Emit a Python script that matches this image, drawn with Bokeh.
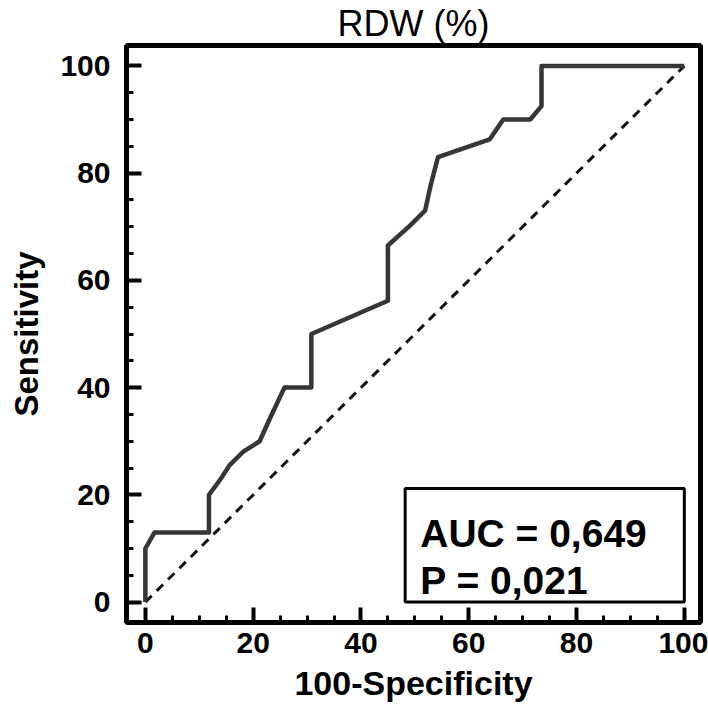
from bokeh.plotting import figure
from bokeh.models import Range1d, ColumnDataSource, FixedTicker
from bokeh.embed import file_html
from bokeh.resources import INLINE
from bokeh.core.properties import value

# ROC curve (100-Specificity vs Sensitivity)
fpr = [0, 0, 1.7, 11.8, 11.8, 14.0, 15.6, 18.1, 21.2, 23.0, 25.8, 30.8, 30.8,
       45.0, 45.0, 49.1, 51.9, 53.0, 54.3, 59.0, 63.9, 66.4, 71.4, 73.5, 73.5, 100]
tpr = [0, 10, 13, 13, 20, 23.0, 25.5, 28, 30, 34.0, 40, 40, 50,
       56.2, 66.5, 70.2, 73, 78, 83, 84.6, 86.3, 90, 90, 92.5, 100, 100]
ref_x = [0, 100]
ref_y = [0, 100]

major_ticks = [0, 20, 40, 60, 80, 100]
minor_ticks = [5, 10, 15, 25, 30, 35, 45, 50, 55, 65, 70, 75, 85, 90, 95]

title_text = "RDW (%)"
x_label = "100-Specificity"
y_label = "Sensitivity"
stats_lines = ["AUC = 0,649", "P = 0,021"]
stats_y = [12.8, 4.1]
stats_x = [51.0, 51.0]
box_left, box_right, box_bottom, box_top = 48.2, 100, 0, 21.2

FONT = "Liberation Sans"

p = figure(width=708, height=716, output_backend="svg", toolbar_location=None,
           x_range=Range1d(-3.5, 103.0), y_range=Range1d(-3.8, 103.8),
           min_border_left=126, min_border_right=8, min_border_top=45,
           min_border_bottom=94)
p.background_fill_color = "white"
p.border_fill_color = "white"
p.xgrid.visible = False
p.ygrid.visible = False
p.outline_line_color = "black"
p.outline_line_width = 5
p.outline_line_alpha = 1

p.title.text = title_text
p.title.align = "center"
p.title.vertical_align = "top"
p.title.text_font = FONT
p.title.text_font_size = "36px"
p.title.text_font_style = "normal"
p.title.text_color = "black"
p.title.standoff = 0
p.title.offset = 0

for ax in (p.xaxis[0], p.yaxis[0]):
    ax.ticker = FixedTicker(ticks=major_ticks, minor_ticks=minor_ticks)
    ax.axis_line_color = "black"
    ax.axis_line_width = 5
    ax.major_tick_in = 15
    ax.major_tick_out = 0
    ax.minor_tick_in = 7
    ax.minor_tick_out = 0
    ax.major_tick_line_width = 4
    ax.minor_tick_line_width = 3
    ax.major_tick_line_color = "black"
    ax.minor_tick_line_color = "black"
    ax.major_label_text_font = FONT
    ax.major_label_text_font_style = "bold"
    ax.major_label_text_font_size = "30px"
    ax.major_label_text_color = "black"
    ax.axis_label_text_font = FONT
    ax.axis_label_text_font_style = "bold"
    ax.axis_label_text_color = "black"

p.xaxis.axis_label = x_label
p.yaxis.axis_label = y_label
p.xaxis.axis_label_text_font_size = "34px"
p.yaxis.axis_label_text_font_size = "33px"
p.yaxis.major_label_standoff = 16
p.xaxis.major_label_standoff = 10
p.yaxis.axis_label_standoff = 12
p.xaxis.axis_label_standoff = 8

# reference diagonal
p.line(ref_x, ref_y, line_color="#111111", line_width=3, line_dash="9 7")
# ROC curve
p.line(fpr, tpr, line_color="#363636", line_width=4.5, line_join="round")

# stats box
p.quad(left=[box_left], right=[box_right], bottom=[box_bottom], top=[box_top],
       fill_color="white", line_color="black", line_width=3)
src = ColumnDataSource(dict(x=stats_x, y=stats_y, t=stats_lines))
p.text(x="x", y="y", text="t", source=src, text_font=value(FONT),
       text_font_style="bold", text_font_size="39px", text_color="black",
       text_baseline="alphabetic", text_align="left")

open("out.html", "w").write(file_html(p, INLINE))
